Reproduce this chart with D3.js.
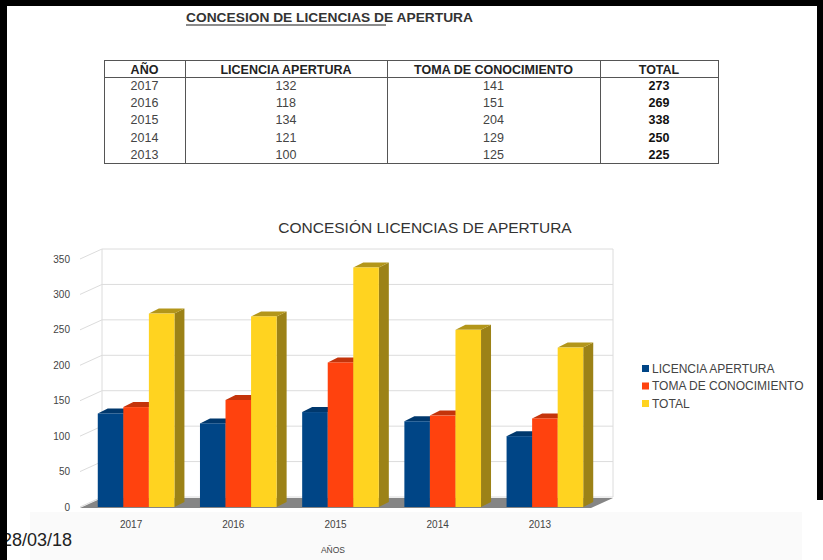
<!DOCTYPE html>
<html>
<head>
<meta charset="utf-8">
<script src="https://cdn.jsdelivr.net/npm/d3@7"></script>
<style>
  body { margin: 0; background: #fff; }
  svg { display: block; font-family: "Liberation Sans", Arial, sans-serif; }
</style>
</head>
<body>
<div id="chart"></div>
<script>
const years = ['2017', '2016', '2015', '2014', '2013']
const licencia = [132, 118, 134, 121, 100]
const toma = [141, 151, 204, 129, 125]
const total = [273, 269, 338, 250, 225]
const seriesNames = ['LICENCIA APERTURA', 'TOMA DE CONOCIMIENTO', 'TOTAL']
const tableHead = ['AÑO', 'LICENCIA APERTURA', 'TOMA DE CONOCIMIENTO', 'TOTAL']
const yTicks = [0, 50, 100, 150, 200, 250, 300, 350]

const W = 823, H = 560
const svg = d3.select('#chart').append('svg').attr('width', W).attr('height', H)

// very faint grey strip at the bottom of the screenshot
svg.append('rect').attr('x', 30).attr('y', 512).attr('width', 772).attr('height', 48).attr('fill', '#fafafa')

// page title
svg.append('text').attr('x', 186).attr('y', 22)
  .attr('font-size', 12).attr('font-weight', 'bold').attr('fill', '#333')
  .attr('textLength', 287).attr('lengthAdjust', 'spacingAndGlyphs')
  .text('CONCESION DE LICENCIAS DE APERTURA')
svg.append('line').attr('x1', 186).attr('x2', 386).attr('y1', 25).attr('y2', 25)
  .attr('stroke', '#666').attr('stroke-width', 1.3)

// ---- table ----
const colEdges = [104, 185, 387, 600, 718]
const tTop = 60, headH = 17, rowH = 17.2
const rows = years.map((y, i) => [y, licencia[i], toma[i], total[i]])
const tg = svg.append('g')
const tBottom = tTop + headH + rowH * rows.length
tg.append('rect').attr('x', colEdges[0] + 0.5).attr('y', tTop + 0.5)
  .attr('width', colEdges[4] - colEdges[0]).attr('height', tBottom - tTop)
  .attr('fill', 'none').attr('stroke', '#555')
tg.append('line').attr('x1', colEdges[0]).attr('x2', colEdges[4])
  .attr('y1', tTop + headH + 0.5).attr('y2', tTop + headH + 0.5).attr('stroke', '#555')
tg.selectAll('line.col').data(colEdges.slice(1, 4)).enter().append('line')
  .attr('class', 'col')
  .attr('x1', d => d + 0.5).attr('x2', d => d + 0.5)
  .attr('y1', tTop).attr('y2', tBottom).attr('stroke', '#555')
tg.selectAll('text.head').data(tableHead).enter().append('text')
  .attr('class', 'head')
  .attr('x', (d, i) => (colEdges[i] + colEdges[i + 1]) / 2)
  .attr('y', tTop + 13.5)
  .attr('text-anchor', 'middle').attr('font-size', 12.5).attr('font-weight', 'bold').attr('fill', '#222')
  .text(d => d)
rows.forEach((r, ri) => {
  tg.selectAll('text.r' + ri).data(r).enter().append('text')
    .attr('x', (d, i) => (colEdges[i] + colEdges[i + 1]) / 2)
    .attr('y', tTop + headH + rowH * ri + 13)
    .attr('text-anchor', 'middle').attr('font-size', 12.5)
    .attr('font-weight', (d, i) => i === 3 ? 'bold' : 'normal')
    .attr('fill', (d, i) => i === 3 ? '#111' : '#444')
    .text(d => d)
})

// ---- 3D bar chart ----
const x0 = 80, x1 = 591
const wallDx = 22, wallDy = -10
const barDx = 10, barDy = -5
const y = d3.scaleLinear().domain([0, 350]).range([507, 259])
const xBand = d3.scaleBand().domain(years).range([x0, x1]).paddingInner(0.25).paddingOuter(0.125)
const xSub = d3.scaleBand().domain(seriesNames).range([0, xBand.bandwidth()])
const colors = [
  { front: '#004586', side: '#002f5c', top: '#00386d' },
  { front: '#ff420e', side: '#b02c08', top: '#c4340b' },
  { front: '#ffd320', side: '#9c8217', top: '#b3961a' }
]
const values = [licencia, toma, total]

svg.append('text').attr('x', 425).attr('y', 233).attr('text-anchor', 'middle')
  .attr('font-size', 15.5).attr('fill', '#333').text('CONCESIÓN LICENCIAS DE APERTURA')

const grid = svg.append('g').attr('stroke', '#dcdcdc').attr('fill', 'none')
yTicks.forEach(t => {
  const fy = y(t)
  grid.append('line').attr('x1', x0 + wallDx).attr('x2', x1 + wallDx).attr('y1', fy + wallDy).attr('y2', fy + wallDy)
  grid.append('line').attr('x1', x0).attr('x2', x0 + wallDx).attr('y1', fy).attr('y2', fy + wallDy)
})
grid.append('line').attr('x1', x0 + wallDx).attr('x2', x0 + wallDx).attr('y1', y(350) + wallDy).attr('y2', y(0) + wallDy)
grid.append('line').attr('x1', x1 + wallDx).attr('x2', x1 + wallDx).attr('y1', y(350) + wallDy).attr('y2', y(0) + wallDy)

// floor
svg.append('polygon')
  .attr('points', [[x0, y(0) + 1], [x1, y(0) + 1], [x1 + wallDx, y(0) + wallDy + 1], [x0 + wallDx, y(0) + wallDy + 1]].join(' '))
  .attr('fill', '#858585')

svg.append('g').selectAll('text').data(yTicks).enter().append('text')
  .attr('x', 70).attr('y', d => y(d) + 3.5).attr('text-anchor', 'end')
  .attr('font-size', 10).attr('fill', '#444').text(d => d)

const bars = svg.append('g')
years.forEach((yr, i) => {
  seriesNames.forEach((s, k) => {
    const v = values[k][i]
    const bx = xBand(yr) + xSub(s) + 5
    const bw = xSub.bandwidth()
    const top = y(v), base = y(0)
    bars.append('polygon')
      .attr('points', [[bx + bw, top], [bx + bw + barDx, top + barDy], [bx + bw + barDx, base + barDy], [bx + bw, base]].join(' '))
      .attr('fill', colors[k].side)
    bars.append('polygon')
      .attr('points', [[bx, top], [bx + bw, top], [bx + bw + barDx, top + barDy], [bx + barDx, top + barDy]].join(' '))
      .attr('fill', colors[k].top)
    bars.append('rect').attr('x', bx).attr('y', top).attr('width', bw).attr('height', base - top)
      .attr('fill', colors[k].front)
  })
})

svg.append('g').selectAll('text').data(years).enter().append('text')
  .attr('x', d => xBand(d) + xBand.bandwidth() / 2).attr('y', 528).attr('text-anchor', 'middle')
  .attr('font-size', 10).attr('fill', '#444').text(d => d)
svg.append('text').attr('x', 333).attr('y', 553).attr('text-anchor', 'middle')
  .attr('font-size', 8.5).attr('fill', '#444').text('AÑOS')

// legend
const leg = svg.append('g').attr('transform', 'translate(642,365)')
seriesNames.forEach((s, k) => {
  leg.append('rect').attr('x', 0).attr('y', k * 17.5).attr('width', 7).attr('height', 7).attr('fill', colors[k].front)
  leg.append('text').attr('x', 10).attr('y', k * 17.5 + 7.5).attr('font-size', 12).attr('fill', '#444').text(s)
})

// date in the corner and the black screen frame
svg.append('text').attr('x', 2).attr('y', 546).attr('font-size', 18).attr('fill', '#222').text('28/03/18')
svg.append('rect').attr('x', 0).attr('y', 0).attr('width', W).attr('height', 6).attr('fill', '#000')
svg.append('rect').attr('x', 0).attr('y', 0).attr('width', 7).attr('height', H).attr('fill', '#000')
svg.append('rect').attr('x', 817).attr('y', 0).attr('width', 6).attr('height', 500).attr('fill', '#000')
</script>
</body>
</html>
